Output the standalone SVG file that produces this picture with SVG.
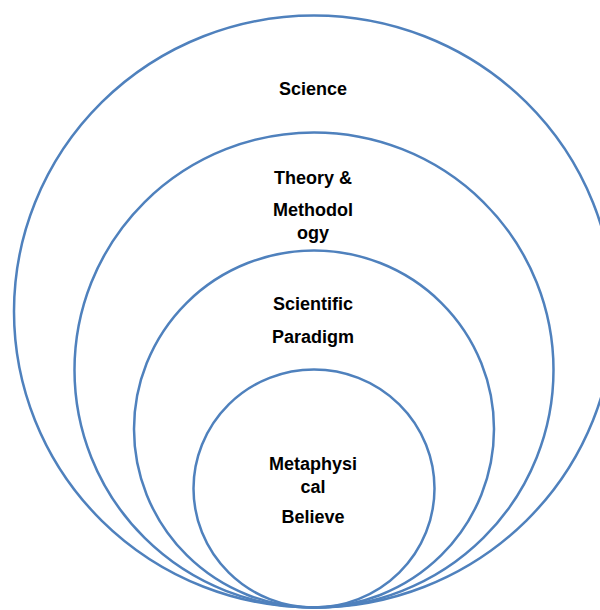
<svg xmlns="http://www.w3.org/2000/svg" width="600" height="610" viewBox="0 0 600 610">
<style>
.ring{fill:none;stroke:#4F81BD;stroke-width:2.5}
.lbl{font-family:"Liberation Sans",Arial,sans-serif;font-weight:bold;font-size:18px;fill:#000;text-anchor:middle}
</style>
<rect width="600" height="610" fill="#fff"/>
<g id="science">
<ellipse class="ring" cx="314" cy="311.5" rx="300" ry="296"/>
<text class="lbl" x="313" y="95">Science</text>
</g>
<g id="theory">
<ellipse class="ring" cx="314" cy="370" rx="239.5" ry="237.5"/>
<text class="lbl" x="313" y="184">Theory &amp;</text>
<text class="lbl" x="313" y="216">Methodol</text>
<text class="lbl" x="313" y="239">ogy</text>
</g>
<g id="paradigm">
<ellipse class="ring" cx="314" cy="429" rx="180" ry="178.5"/>
<text class="lbl" x="313" y="310">Scientific</text>
<text class="lbl" x="313" y="343">Paradigm</text>
</g>
<g id="metaphysical">
<ellipse class="ring" cx="314" cy="488.5" rx="120.5" ry="119"/>
<text class="lbl" x="313" y="470">Metaphysi</text>
<text class="lbl" x="313" y="493">cal</text>
<text class="lbl" x="313" y="523">Believe</text>
</g>
<g id="connectors"></g>
</svg>
